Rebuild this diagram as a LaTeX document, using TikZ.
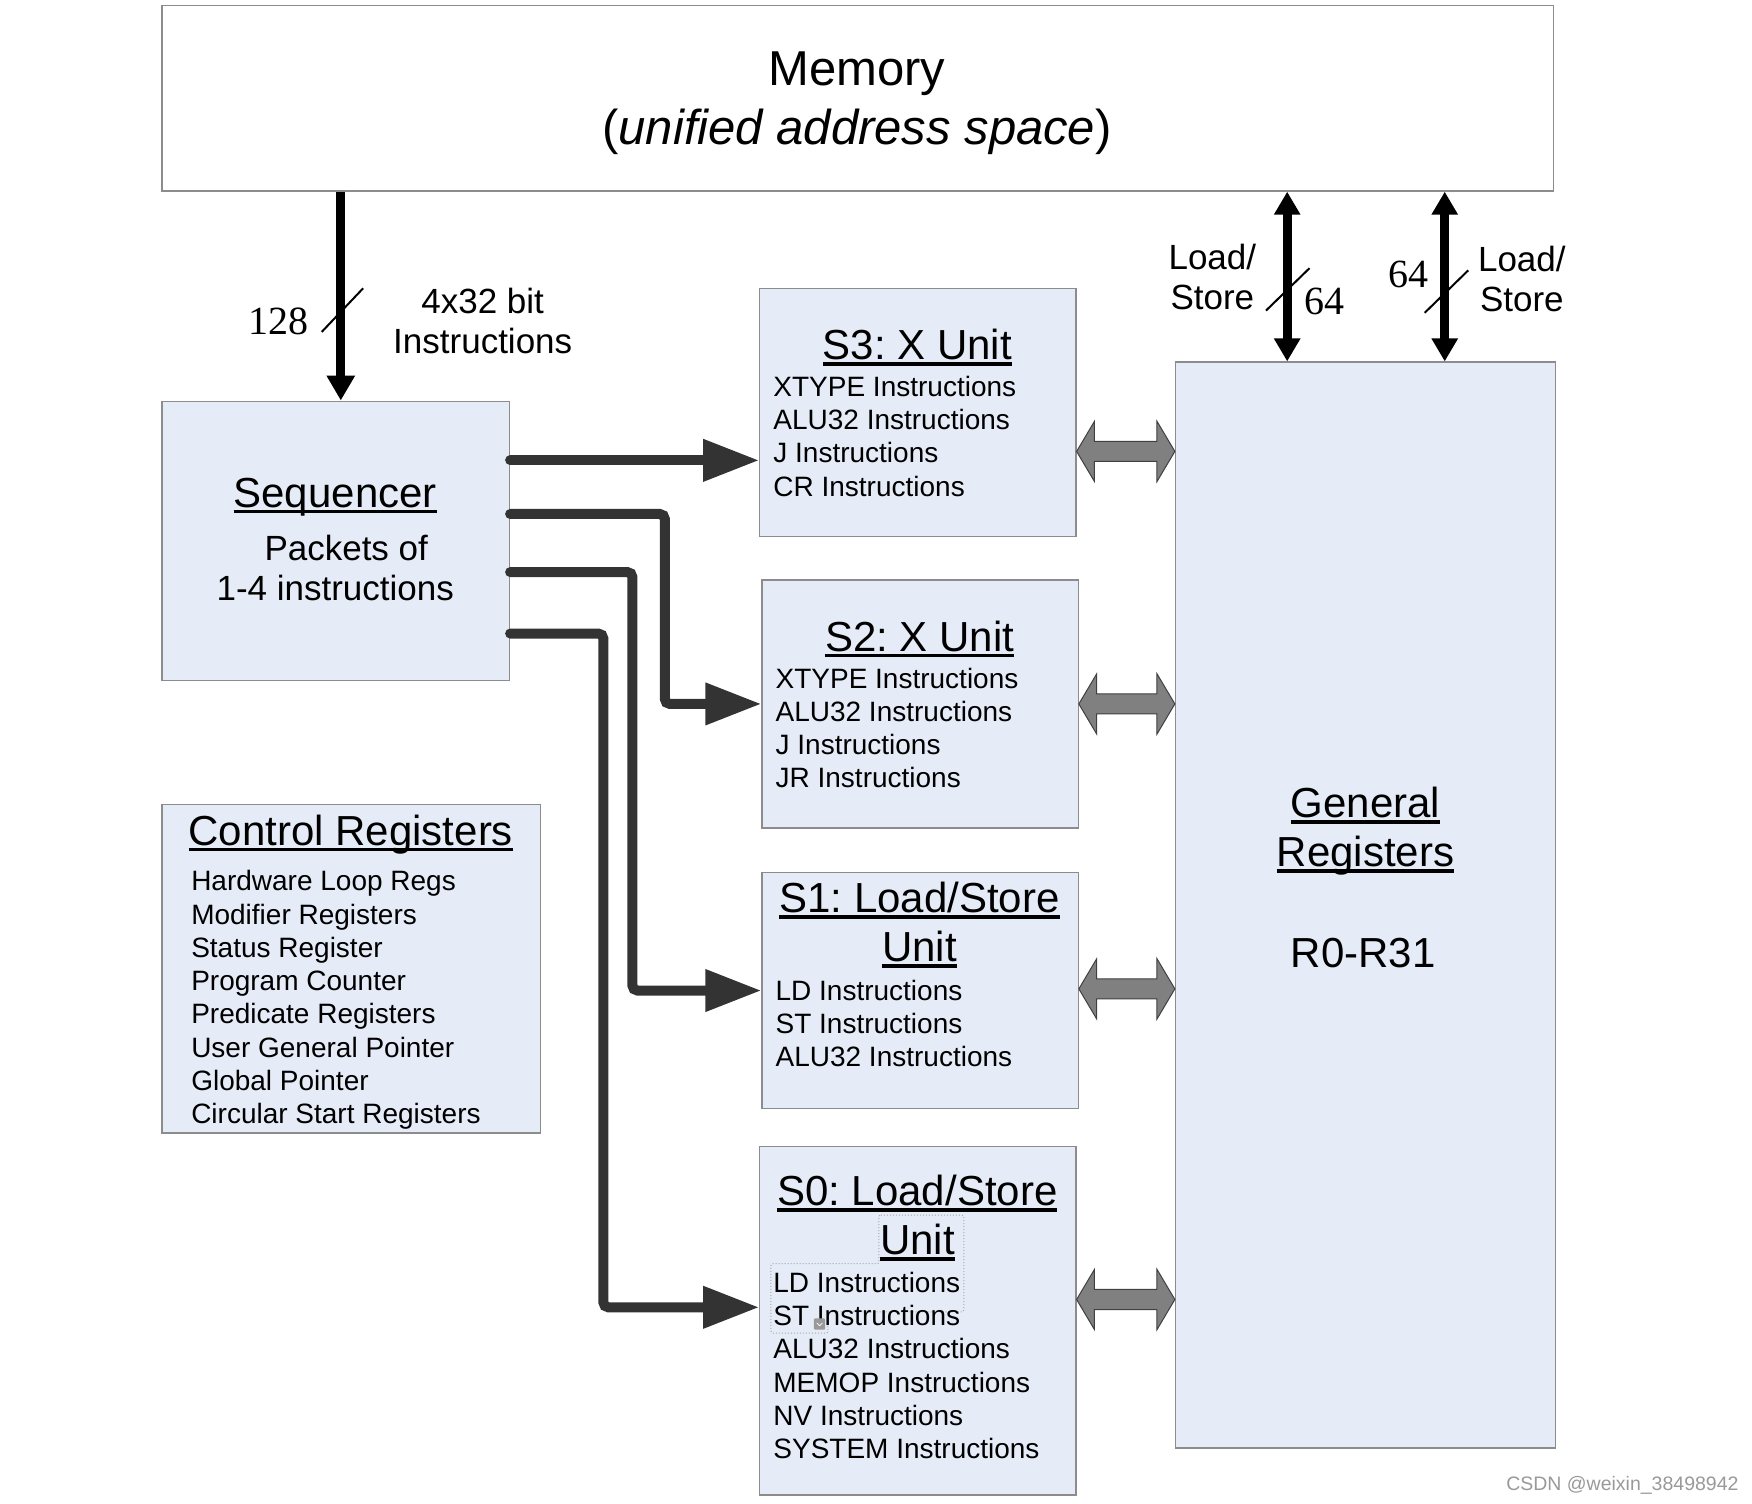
\documentclass[tikz, border = 0pt]{standalone}
\usepackage{fontspec}
\setmainfont{Liberation Sans}
\newfontfamily\numfont{Liberation Serif}
\usetikzlibrary{arrows.meta, calc, fit}
\frenchspacing

\definecolor{boxfill}{RGB}{230, 236, 247}
\definecolor{boxline}{RGB}{140, 140, 140}
\definecolor{busgray}{RGB}{51, 51, 51}
\definecolor{portgray}{RGB}{128, 128, 128}
\definecolor{portline}{RGB}{64, 64, 64}

\newsavebox\ulbox
\newcommand\ulined[1]{\sbox\ulbox{#1}\rlap{\rule[-0.14em]{\wd\ulbox}{0.08em}}\usebox\ulbox}

\begin{document}
\begin{tikzpicture}[x = 1.11735pt, y = -1.11735pt,
	box/.style = {draw = boxline, line width = 1.2pt, inner sep = 0pt},
	unitbox/.style = {box, fill = boxfill},
	title/.style = {font = \fontsize{42}{49}\selectfont, align = center, inner sep = 0pt},
	items/.style = {font = \fontsize{28}{33.3}\selectfont, align = left, anchor = west, inner sep = 0pt},
	note/.style = {font = \fontsize{35}{40}\selectfont, align = center, inner sep = 0pt},
	buswidth/.style = {font = {\numfont\fontsize{40}{48}\selectfont}, inner sep = 0pt},
	fetch/.style = {-{Triangle[length = 25pt, width = 27pt]}, line width = 9pt},
	ldst/.style = {{Triangle[length = 23pt, width = 25pt]}-{Triangle[length = 23pt, width = 25pt]}, line width = 9pt},
	issue/.style = {-{Triangle[length = 56pt, width = 40pt]}, line width = 10pt, draw = busgray, line cap = round, rounded corners = 5pt},
	port/.style = {draw = portline, fill = portgray, line width = 1pt},
	slash/.style = {line width = 2pt}
]

\useasboundingbox (0, 0) rectangle (1568, 1346);

% Memory

\node [box, fit = {(145, 5) (1390, 171)}] (mem) {};
\node [font = \fontsize{49}{59}\selectfont, align = center, inner sep = 0pt] at (767, 92) {Memory\\(\textit{unified address space})};

% Boxes

\node [unitbox, fit = {(145, 359) (456, 609)}] (seq) {};
\node [unitbox, fit = {(145, 720) (484, 1014)}] (ctrl) {};
\node [unitbox, fit = {(680, 258) (963, 480)}] (s3) {};
\node [unitbox, fit = {(682, 519) (965, 741)}] (s2) {};
\node [unitbox, fit = {(682, 781) (965, 992)}] (s1) {};
\node [unitbox, fit = {(680, 1026) (963, 1338)}] (s0) {};
\node [unitbox, fit = {(1052, 324) (1392, 1296)}] (gr) {};

% Instruction fetch

\draw [fetch] (mem.south -| 305, 0) -- (seq.north -| 305, 0);
\draw [slash] (288, 297) -- (325, 258);
\node [buswidth] at (249, 288) {128};
\node [note] at (432, 287) {4x32 bit\\Instructions};

% Load / store paths

\draw [ldst] (mem.south -| 1152, 0) -- (gr.north -| 1152, 0);
\draw [ldst] (mem.south -| 1293, 0) -- (gr.north -| 1293, 0);
\draw [slash] (1133, 278) -- (1172, 240);
\draw [slash] (1275, 280) -- (1314, 242);
\node [note] at (1085, 248) {Load/\\Store};
\node [note] at (1362, 250) {Load/\\Store};
\node [buswidth] at (1185, 270) {64};
\node [buswidth] at (1261, 246) {64};

% Issue to the slots

\draw [issue] (seq.east |- 0, 412) -- (s3.west |- 0, 412);
\draw [issue] (seq.east |- 0, 460) -| (595, 0 |- s2.west) -- (s2.west);
\draw [issue] (seq.east |- 0, 512) -| (566, 0 |- s1.west) -- (s1.west);
\draw [issue] (seq.east |- 0, 567) -| (540, 1170) -- (s0.west |- 0, 1170);

% Register file ports

\foreach \u/\y in {s3/404, s2/630, s1/885, s0/1163}
	\draw [port] (\u.east |- 0, \y) -- ++(16, -27) -- ++(0, 18) -- ($(gr.west |- 0, \y) + (-16, -9)$) -- ++(0, -18) -- (gr.west |- 0, \y) -- ++(-16, 27) -- ++(0, -18) -- ($(\u.east |- 0, \y) + (16, 9)$) -- ++(0, 18) -- cycle;

% Selection outline

\draw [dotted, gray!70, line width = 1pt, rounded corners = 2pt] (786.6, 1087.5) -| (862.6, 1174) -| (741, 1193) -| (690, 1131) -- (786.6, 1131) -- cycle;

% Texts

\node [title] at (300, 445) {\ulined{Sequencer}};
\node [note] at (300, 508) {\hspace*{22pt}Packets of\\1-4 instructions};

\node [title] at (314, 747) {\ulined{Control Registers}};
\node [items] at (171, 895) {Hardware Loop Regs\\Modifier Registers\\Status Register\\Program Counter\\Predicate Registers\\User General Pointer\\Global Pointer\\Circular Start Registers};

\node [title] at (821, 311) {\ulined{S3: X Unit}};
\node [items] at (692, 390.5) {XTYPE Instructions\\ALU32 Instructions\\J Instructions\\CR Instructions};

\node [title] at (823, 572) {\ulined{S2: X Unit}};
\node [items] at (694, 651.5) {XTYPE Instructions\\ALU32 Instructions\\J Instructions\\JR Instructions};

\node [title] at (823, 828) {\ulined{S1: Load/Store}\\\ulined{Unit}};
\node [items] at (694, 916) {LD Instructions\\ST Instructions\\ALU32 Instructions};

\node [title] at (821, 1090) {\ulined{S0: Load/Store}\\\ulined{Unit}};
\node [items] at (692, 1222) {LD Instructions\\ST Instructions\\ALU32 Instructions\\MEMOP Instructions\\NV Instructions\\SYSTEM Instructions};

\node [title] at (1222, 744) {\ulined{General}\\\ulined{Registers}};
\node [title] at (1220, 853) {R0-R31};

% Small check box

\fill [gray!80, rounded corners = 1pt] (728.5, 1180) rectangle (738.5, 1190);
\draw [white, line width = 0.8pt] (731, 1184) -- (733.5, 1186.5) -- (736, 1184);

% Watermark

\node [font = \fontsize{19.5}{23}\selectfont, text = gray!80, inner sep = 0pt] at (1452, 1329) {CSDN @weixin\_38498942};

\end{tikzpicture}
\end{document}
